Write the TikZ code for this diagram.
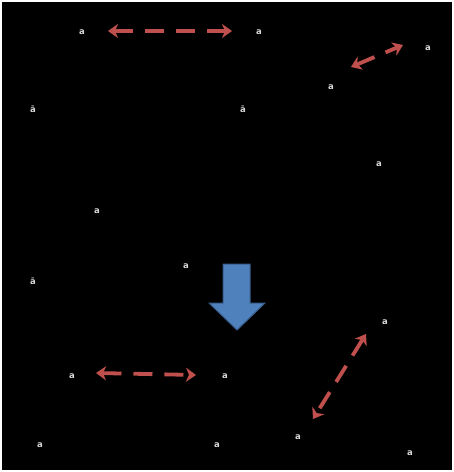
\documentclass[tikz,border=0pt]{standalone}
\usepackage{fontspec}
\setsansfont{DejaVu Sans}
\usetikzlibrary{arrows.meta}
\definecolor{arrowred}{HTML}{C0504D}
\definecolor{bluefill}{HTML}{4F81BD}
\definecolor{blueline}{HTML}{385D8A}
\definecolor{labelgray}{HTML}{D8D8D8}
\tikzset{
  lbl/.style={text=labelgray, font=\sffamily\bfseries\fontsize{8.5}{9}\selectfont, inner sep=0pt},
  dblarrow/.style={draw=arrowred, line width=3.8pt, dash pattern=on 19pt off 12pt,
    {Stealth[length=10pt,width=14pt,inset=3pt]}-{Stealth[length=10pt,width=14pt,inset=3pt]}}
}
\begin{document}
\begin{tikzpicture}[x=1pt,y=-1pt]
\useasboundingbox (0,0) rectangle (454,472);
\fill[white] (0,0) rectangle (454,472);
\fill[black] (2,2) rectangle (452,470);
% labels
\node[lbl] (l1) at (82,32) {a};
\node[lbl] (l2) at (259,32) {a};
\node[lbl] (l3) at (428,48) {a};
\node[lbl] (l4) at (331,87) {a};
\node[lbl] (l5) at (33,109) {ā};
\node[lbl] (l6) at (243,109) {ā};
\node[lbl] (l7) at (379,164) {a};
\node[lbl] (l8) at (97,211) {a};
\node[lbl] (l9) at (186,266) {a};
\node[lbl] (l10) at (33,281) {ā};
\node[lbl] (l11) at (385,322) {a};
\node[lbl] (l12) at (72,376) {a};
\node[lbl] (l13) at (225,376) {a};
\node[lbl] (l14) at (40,445) {a};
\node[lbl] (l15) at (217,445) {a};
\node[lbl] (l16) at (298,437) {a};
\node[lbl] (l17) at (410,453) {a};
% arrow end points
\coordinate (a1s) at (108,31);
\coordinate (a1e) at (232,31);
\coordinate (a2s) at (351,67);
\coordinate (a2e) at (403,45);
\coordinate (a3s) at (96,373);
\coordinate (a3e) at (196,375);
\coordinate (a4s) at (366,334);
\coordinate (a4e) at (313,419);
\draw[dblarrow] (a1s) -- (a1e);
\draw[dblarrow] (a2s) -- (a2e);
\draw[dblarrow] (a3s) -- (a3e);
\draw[dblarrow] (a4s) -- (a4e);
% blue down arrow
\filldraw[fill=bluefill, draw=blueline, line width=1pt, line join=miter]
  (223,264) -- (250,264) -- (250,303) -- (265,303) -- (237,330) -- (209,303) -- (223,303) -- cycle;
\end{tikzpicture}
\end{document}
